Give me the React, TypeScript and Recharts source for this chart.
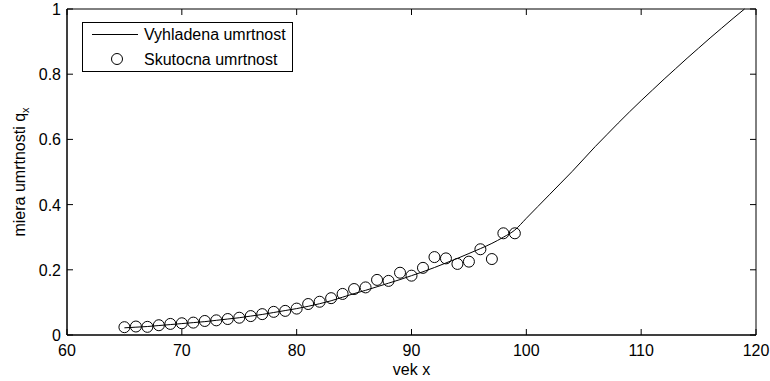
import { ComposedChart, Line, Scatter, XAxis, YAxis, Legend, ReferenceArea } from 'recharts';

// smoothed mortality curve (ages 65..119)
const curveAges = [
  65, 66, 67, 68, 69, 70, 71, 72, 73, 74, 75, 76, 77, 78, 79, 80, 81, 82, 83, 84,
  85, 86, 87, 88, 89, 90, 91, 92, 93, 94, 95, 96, 97, 98, 99, 100, 101, 102, 103, 104,
  105, 106, 107, 108, 109, 110, 111, 112, 113, 114, 115, 116, 117, 118, 119,
];
const curveQx = [
  0.022, 0.024, 0.026, 0.029, 0.032, 0.035, 0.038, 0.041, 0.045, 0.049,
  0.053, 0.058, 0.063, 0.069, 0.075, 0.081, 0.088, 0.096, 0.105, 0.116,
  0.127, 0.137, 0.148, 0.159, 0.170, 0.182, 0.194, 0.207, 0.221, 0.235,
  0.250, 0.265, 0.281, 0.300, 0.322, 0.358, 0.394, 0.430, 0.466, 0.502,
  0.540, 0.578, 0.614, 0.650, 0.685, 0.719, 0.752, 0.785, 0.817, 0.849,
  0.880, 0.911, 0.941, 0.971, 1.0,
];

// observed mortality (ages 65..99)
const observedAges = [
  65, 66, 67, 68, 69, 70, 71, 72, 73, 74, 75, 76, 77, 78, 79, 80, 81, 82,
  83, 84, 85, 86, 87, 88, 89, 90, 91, 92, 93, 94, 95, 96, 97, 98, 99,
];
const observedQx = [
  0.024, 0.026, 0.025, 0.030, 0.034, 0.036, 0.038, 0.043, 0.045, 0.049,
  0.053, 0.058, 0.064, 0.071, 0.074, 0.081, 0.095, 0.102, 0.113, 0.126,
  0.141, 0.146, 0.169, 0.166, 0.191, 0.182, 0.206, 0.239, 0.235, 0.218,
  0.225, 0.263, 0.233, 0.312, 0.312,
];

const xTicks = [60, 70, 80, 90, 100, 110, 120];
const yTicks = [0, 0.2, 0.4, 0.6, 0.8, 1];

const curve = curveAges.map((age, i) => ({ age, q: curveQx[i] }));
const observed = observedAges.map((age, i) => ({ age, q: observedQx[i] }));

const W = 770;
const H = 381;
const PLOT_W = 689;
const PLOT_H = 326;
const TICK = 6;
const FONT = '"Liberation Sans", Arial, Helvetica, sans-serif';

const XTick = ({ x, y, payload }: any) => (
  <g>
    <line x1={x} y1={y} x2={x} y2={y - TICK} stroke="#000" />
    <line x1={x} y1={y - PLOT_H} x2={x} y2={y - PLOT_H + TICK} stroke="#000" />
    <text x={x} y={y + 21} textAnchor="middle" fontSize={16} fill="#000" fontFamily={FONT}>
      {payload.value}
    </text>
  </g>
);

const YTick = ({ x, y, payload }: any) => (
  <g>
    <line x1={x} y1={y} x2={x + TICK} y2={y} stroke="#000" />
    <line x1={x + PLOT_W} y1={y} x2={x + PLOT_W - TICK} y2={y} stroke="#000" />
    <text x={x - 6} y={y + 6} textAnchor="end" fontSize={16} fill="#000" fontFamily={FONT}>
      {String(payload.value)}
    </text>
  </g>
);

const LegendBox = () => (
  <svg width={211} height={50} style={{ display: 'block' }}>
    <rect x={0.5} y={0.5} width={210} height={49} fill="#fff" stroke="#000" />
    <line x1={10} y1={12.5} x2={56} y2={12.5} stroke="#000" />
    <text x={62} y={18} fontSize={16} fontFamily={FONT} fill="#000">Vyhladena umrtnost</text>
    <circle cx={35} cy={37} r={5.5} fill="none" stroke="#000" />
    <text x={62} y={43} fontSize={16} fontFamily={FONT} fill="#000">Skutocna umrtnost</text>
  </svg>
);

const Circle = (props: any) => (
  <circle cx={props.cx} cy={props.cy} r={5.5} fill="none" stroke="#000" strokeWidth={1} />
);

export default function App() {
  return (
    <div style={{ position: 'absolute', left: 0, top: 0, width: W, height: H, background: '#fff', fontFamily: FONT }}>
      <ComposedChart width={W} height={H} margin={{ top: 9, right: 14, bottom: 0, left: 0 }}>
        <XAxis
          type="number"
          dataKey="age"
          domain={[60, 120]}
          ticks={xTicks}
          height={46}
          tickLine={false}
          tickSize={0}
          tickMargin={0}
          axisLine={{ stroke: '#000' }}
          tick={<XTick />}
          interval={0}
          label={{
            content: ({ viewBox }: any) => (
              <text x={viewBox.x + viewBox.width / 2} y={viewBox.y + 40} textAnchor="middle" fontSize={16} fontFamily={FONT} fill="#000">
                vek x
              </text>
            ),
          }}
        />
        <YAxis
          type="number"
          dataKey="q"
          domain={[0, 1]}
          ticks={yTicks}
          width={67}
          tickLine={false}
          tickSize={0}
          tickMargin={0}
          axisLine={{ stroke: '#000' }}
          tick={<YTick />}
          interval={0}
          label={{
            content: ({ viewBox }: any) => {
              const cy = viewBox.y + viewBox.height / 2;
              return (
                <text transform={`translate(25, ${cy}) rotate(-90)`} textAnchor="middle" fontSize={16} fontFamily={FONT} fill="#000">
                  miera umrtnosti q<tspan fontSize={11} dy={4}>x</tspan>
                </text>
              );
            },
          }}
        />
        <ReferenceArea x1={60} x2={120} y1={0} y2={1} fill="none" stroke="#000" />
        <Line data={curve} dataKey="q" type="monotone" stroke="#000" strokeWidth={1} dot={false} isAnimationActive={false} name="Vyhladena umrtnost" />
        <Scatter data={observed} dataKey="q" shape={<Circle />} isAnimationActive={false} name="Skutocna umrtnost" />
        <Legend
          layout="vertical"
          align="center"
          verticalAlign="middle"
          content={<LegendBox />}
          wrapperStyle={{ position: 'absolute', left: 82, top: 22, width: 211, height: 50 }}
        />
      </ComposedChart>
    </div>
  );
}
